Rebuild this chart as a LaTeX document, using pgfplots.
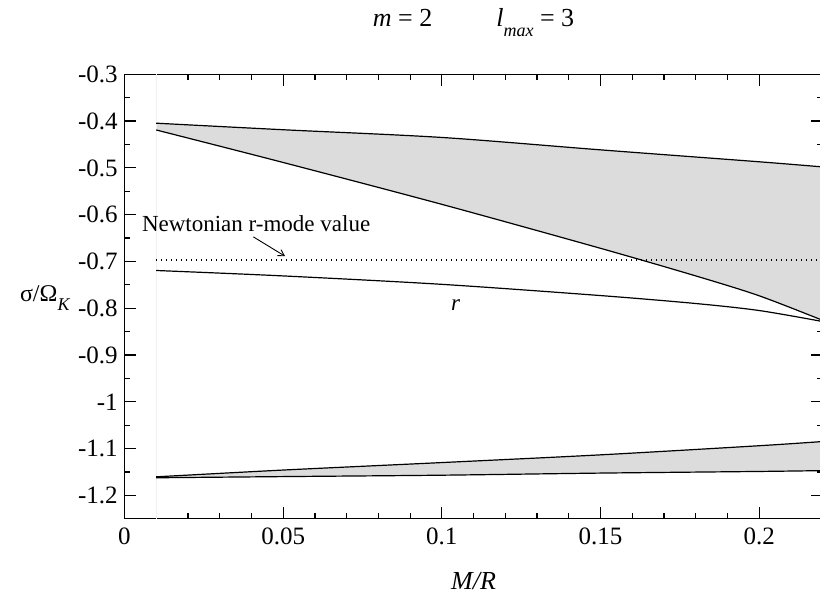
\documentclass[border=0pt]{standalone}
\usepackage{fontspec}
\setmainfont{Liberation Serif}
\usepackage{pgfplots}
\pgfplotsset{compat=1.18}
\usepgfplotslibrary{fillbetween}
\usetikzlibrary{arrows.meta}
\definecolor{bandgray}{RGB}{220,220,220}

\begin{document}
\begin{tikzpicture}
\begin{axis}[
    set layers,
    scale only axis,
    width=349.1pt, height=222.2pt,
    xmin=0, xmax=0.22,
    ymin=-1.25, ymax=-0.3,
    xtick={0,0.05,0.1,0.15,0.2},
    xticklabels={0,0.05,0.1,0.15,0.2},
    ytick={-1.2,-1.1,-1,-0.9,-0.8,-0.7,-0.6,-0.5,-0.4,-0.3},
    yticklabels={-1.2,-1.1,-1,-0.9,-0.8,-0.7,-0.6,-0.5,-0.4,-0.3},
    minor x tick num=4,
    minor y tick num=1,
    tick align=inside,
    major tick length=6pt,
    minor tick length=3pt,
    axis line style={line width=0.7pt},
    every tick/.style={black, line width=0.6pt},
    ticklabel style={font=\fontsize{12.5}{14}\selectfont},
    xticklabel style={inner sep=0pt, anchor=north, yshift=-4.6pt},
    yticklabel style={inner sep=0pt, anchor=east, xshift=-3.2pt},
    title={\textit{m} = 2\hspace{32pt}\textit{l}\raisebox{-5pt}{\fontsize{9}{10}\selectfont\textit{max}} = 3},
    every axis title/.style={at={(0.5,1)}, anchor=base, yshift=23.8pt, font=\fontsize{13}{15}\selectfont},
    xlabel={\textit{M/R}},
    every axis x label/.style={at={(0.5,0)}, anchor=base, yshift=-35.6pt, font=\fontsize{13}{15}\selectfont},
    ylabel={σ/Ω\raisebox{-4.5pt}{\fontsize{9}{10}\selectfont\textit{K}}},
    every axis y label/.style={at={(0,0.488)}, anchor=base west, xshift=-55.75pt, font=\fontsize{12}{14}\selectfont},
]

% faint guide at the first computed point
\addplot[gray!12, line width=0.4pt] coordinates {(0.01,-1.25) (0.01,-0.3)};

% upper band
\addplot[name path=A, black, line width=0.6pt, smooth] coordinates {
    (0.01,-0.4045) (0.05,-0.4185) (0.1,-0.435) (0.15,-0.4615) (0.2,-0.487) (0.22,-0.498)
};
\addplot[name path=B, black, line width=0.6pt, smooth] coordinates {
    (0.01,-0.419) (0.05,-0.4885) (0.1,-0.578) (0.15,-0.672) (0.18,-0.731) (0.2,-0.7735) (0.22,-0.826)
};
\addplot[bandgray] fill between[of=A and B];

% Newtonian value
\addplot[black, line width=0.6pt, dash pattern=on 0.5pt off 2pt] coordinates {(0.01,-0.697) (0.22,-0.697)};

% r-mode
\addplot[black, line width=0.6pt, smooth] coordinates {
    (0.01,-0.7194) (0.05,-0.731) (0.1,-0.749) (0.15,-0.773) (0.18,-0.790) (0.2,-0.805) (0.22,-0.8285)
};

% lower band
\addplot[name path=C, black, line width=0.6pt, smooth] coordinates {
    (0.01,-1.1605) (0.05,-1.146) (0.1,-1.130) (0.15,-1.1135) (0.2,-1.094) (0.22,-1.085)
};
\addplot[name path=D, black, line width=0.6pt, smooth] coordinates {
    (0.01,-1.1625) (0.05,-1.160) (0.1,-1.157) (0.15,-1.1525) (0.2,-1.149) (0.22,-1.1472)
};
\addplot[bandgray] fill between[of=C and D];

\node[anchor=base west, inner sep=0pt, font=\fontsize{11.5}{13}\selectfont]
    at (axis cs:0.0054,-0.6356) {Newtonian r-mode value};
\draw[-{Straight Barb[length=3pt,width=3.5pt]}, line width=0.45pt]
    (axis cs:0.0406,-0.6475) -- (axis cs:0.0506,-0.6889);
\node[anchor=base, inner sep=0pt, font=\fontsize{11.5}{13}\selectfont]
    at (axis cs:0.1043,-0.804) {\textit{r}};
\end{axis}
\pgfresetboundingbox
\path (current axis.south west) ++(-62.25pt,-37.65pt) rectangle ++(410pt,297pt);
\end{tikzpicture}
\end{document}
